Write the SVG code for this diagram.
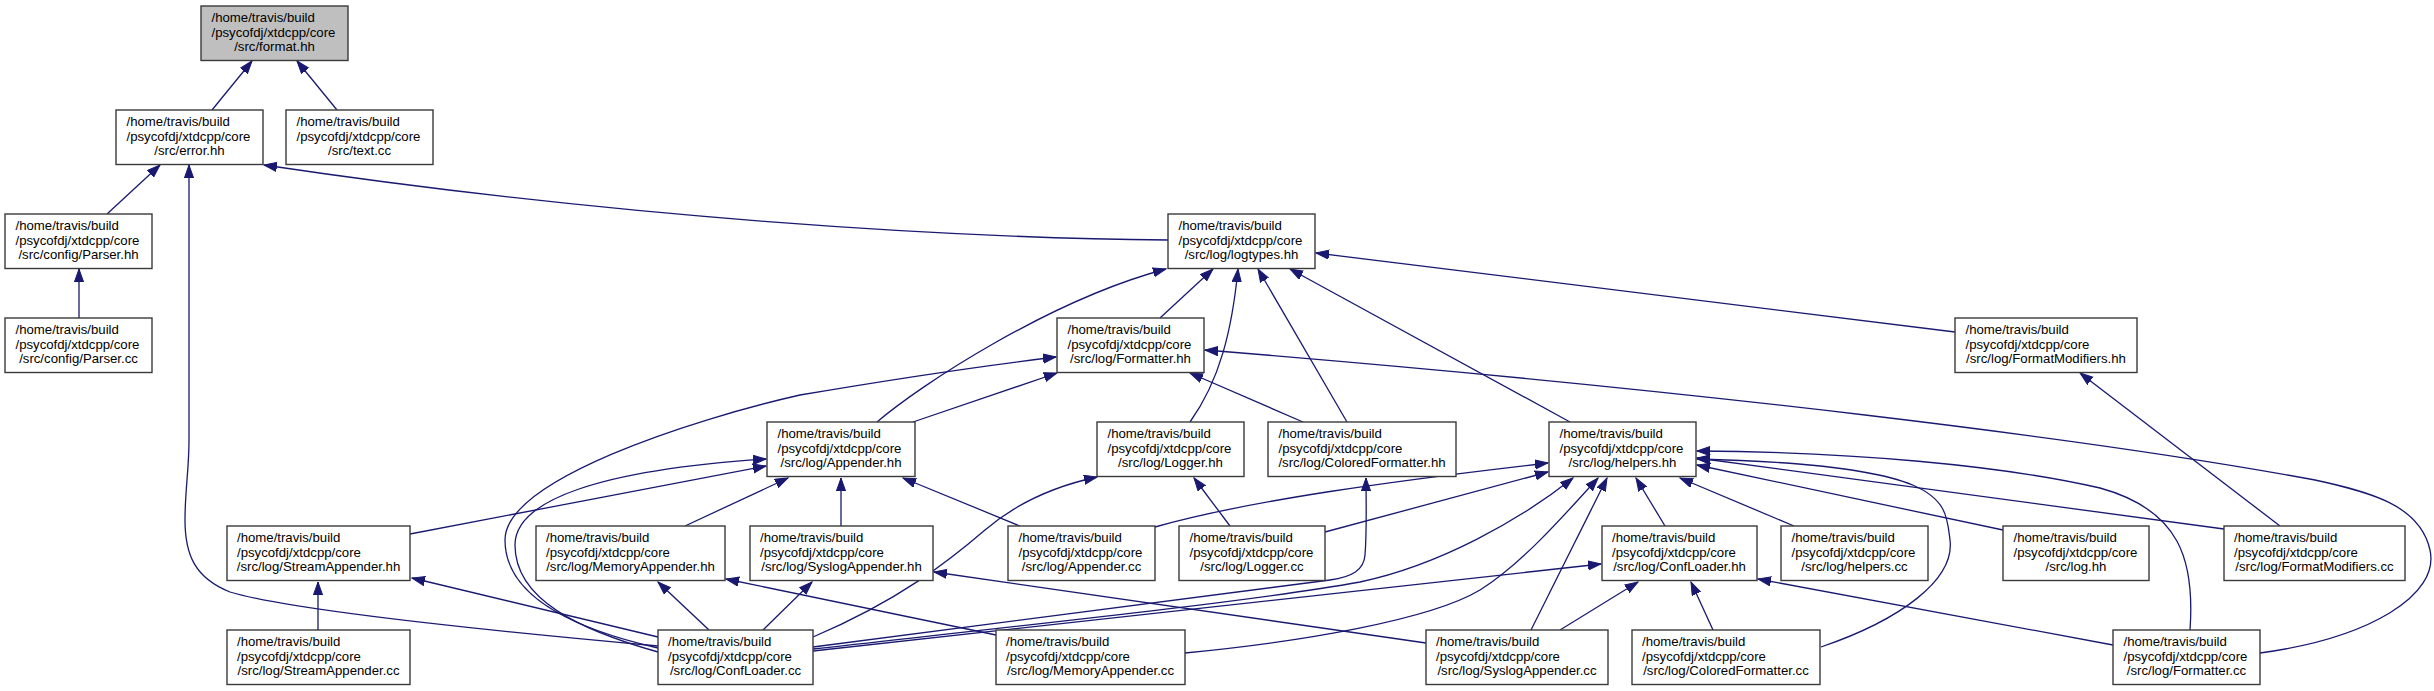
<svg xmlns="http://www.w3.org/2000/svg" width="2434" height="691" viewBox="0 0 2434 691">
<defs>
<marker id="ah" markerUnits="userSpaceOnUse" markerWidth="16" markerHeight="12" refX="13" refY="5" orient="auto">
<path d="M0,0.4 L13,5 L0,9.6 z" fill="#191970" stroke="#191970" stroke-width="1"/>
</marker>
<style>
.node rect{fill:#ffffff;stroke:#3a3a3a;stroke-width:1.4}
.node.root rect{fill:#bfbfbf}
.node text{font-family:"Liberation Sans",Arial,sans-serif;font-size:13.2px;fill:#000}
.c{text-anchor:middle}
#edges path{fill:none;stroke:#191970;stroke-width:1.3;marker-end:url(#ah)}
</style>
</defs>
<rect width="2434" height="691" fill="#ffffff"/>
<g id="edges">
<path d="M212,110 L252,61"/>
<path d="M337,110 L297,61"/>
<path d="M107,214 L160,165"/>
<path d="M79,318 L79,269"/>
<path d="M658,646 C480,630 290,610 230,592 C195,578 185,555 185,520 C185,490 189,470 189,440 L189,165"/>
<path d="M1168,240 C950,238 620,218 264,165"/>
<path d="M877,422 C920,385 1050,300 1166,269"/>
<path d="M1160,318 L1213,269"/>
<path d="M1190,422 C1220,380 1232,330 1238,269"/>
<path d="M1347,422 L1258,269"/>
<path d="M1570,422 L1290,269"/>
<path d="M1955,332 L1316,253"/>
<path d="M913,422 L1057,373"/>
<path d="M1303,422 L1190,373"/>
<path d="M2260,653 C2370,638 2440,595 2430,550 C2420,505 2370,492 2315,480 C2100,440 1700,390 1205,350"/>
<path d="M658,648 C570,628 505,595 505,540 C505,480 690,420 800,395 C900,378 990,365 1056,357"/>
<path d="M658,652 C580,630 515,600 515,545 C515,500 600,470 766,459"/>
<path d="M410,534 L766,466"/>
<path d="M685,526 L788,478"/>
<path d="M841,526 L841,478"/>
<path d="M1020,526 L903,478"/>
<path d="M318,630 L318,582"/>
<path d="M658,637 L412,578"/>
<path d="M709,630 L658,582"/>
<path d="M996,635 L726,579"/>
<path d="M763,630 L812,582"/>
<path d="M1426,643 L934,572"/>
<path d="M1230,526 L1194,478"/>
<path d="M813,637 C900,600 950,560 985,530 C1020,500 1060,485 1097,477"/>
<path d="M813,647 L1330,580 C1352,577 1364,570 1365,555 C1367,530 1366,500 1366,478"/>
<path d="M1155,527 C1250,500 1400,480 1548,463"/>
<path d="M1325,532 L1548,472"/>
<path d="M813,649 C1000,628 1250,602 1360,582 C1440,565 1520,520 1573,478"/>
<path d="M1185,653 C1300,642 1430,620 1480,590 C1520,565 1560,520 1598,478"/>
<path d="M1531,630 L1607,478"/>
<path d="M1665,526 L1636,478"/>
<path d="M1794,526 L1680,478"/>
<path d="M2003,530 L1697,465"/>
<path d="M2224,529 L1697,458"/>
<path d="M1821,647 C1900,620 1955,580 1950,540 C1945,500 1950,465 1697,459"/>
<path d="M2190,630 C2195,560 2180,510 2100,488 C2000,465 1850,452 1697,451"/>
<path d="M813,651 L1601,564"/>
<path d="M1560,630 L1638,582"/>
<path d="M1713,630 L1691,582"/>
<path d="M2113,645 L1758,579"/>
<path d="M2280,526 L2080,373"/>
</g>
<g id="n_format" class="node root"><rect x="201" y="6" width="147" height="54.5"/><text x="211.5" y="22">/home/travis/build<tspan x="211.5" y="36.5">/psycofdj/xtdcpp/core</tspan><tspan class="c" x="274.5" y="51">/src/format.hh</tspan></text></g>
<g id="n_error" class="node"><rect x="116" y="110" width="147" height="54.5"/><text x="126.5" y="126">/home/travis/build<tspan x="126.5" y="140.5">/psycofdj/xtdcpp/core</tspan><tspan class="c" x="189.5" y="155">/src/error.hh</tspan></text></g>
<g id="n_text" class="node"><rect x="286" y="110" width="147" height="54.5"/><text x="296.5" y="126">/home/travis/build<tspan x="296.5" y="140.5">/psycofdj/xtdcpp/core</tspan><tspan class="c" x="359.5" y="155">/src/text.cc</tspan></text></g>
<g id="n_parserhh" class="node"><rect x="5" y="214" width="147" height="54.5"/><text x="15.5" y="230">/home/travis/build<tspan x="15.5" y="244.5">/psycofdj/xtdcpp/core</tspan><tspan class="c" x="78.5" y="259">/src/config/Parser.hh</tspan></text></g>
<g id="n_parsercc" class="node"><rect x="5" y="318" width="147" height="54.5"/><text x="15.5" y="334">/home/travis/build<tspan x="15.5" y="348.5">/psycofdj/xtdcpp/core</tspan><tspan class="c" x="78.5" y="363">/src/config/Parser.cc</tspan></text></g>
<g id="n_logtypes" class="node"><rect x="1168" y="214" width="147" height="54.5"/><text x="1178.5" y="230">/home/travis/build<tspan x="1178.5" y="244.5">/psycofdj/xtdcpp/core</tspan><tspan class="c" x="1241.5" y="259">/src/log/logtypes.hh</tspan></text></g>
<g id="n_formatterhh" class="node"><rect x="1057" y="318" width="147" height="54.5"/><text x="1067.5" y="334">/home/travis/build<tspan x="1067.5" y="348.5">/psycofdj/xtdcpp/core</tspan><tspan class="c" x="1130.5" y="363">/src/log/Formatter.hh</tspan></text></g>
<g id="n_formatmodhh" class="node"><rect x="1955" y="318" width="182" height="54.5"/><text x="1965.5" y="334">/home/travis/build<tspan x="1965.5" y="348.5">/psycofdj/xtdcpp/core</tspan><tspan class="c" x="2046" y="363">/src/log/FormatModifiers.hh</tspan></text></g>
<g id="n_appenderhh" class="node"><rect x="767" y="422" width="148" height="54.5"/><text x="777.5" y="438">/home/travis/build<tspan x="777.5" y="452.5">/psycofdj/xtdcpp/core</tspan><tspan class="c" x="841" y="467">/src/log/Appender.hh</tspan></text></g>
<g id="n_loggerhh" class="node"><rect x="1097" y="422" width="147" height="54.5"/><text x="1107.5" y="438">/home/travis/build<tspan x="1107.5" y="452.5">/psycofdj/xtdcpp/core</tspan><tspan class="c" x="1170.5" y="467">/src/log/Logger.hh</tspan></text></g>
<g id="n_coloredhh" class="node"><rect x="1268" y="422" width="188" height="54.5"/><text x="1278.5" y="438">/home/travis/build<tspan x="1278.5" y="452.5">/psycofdj/xtdcpp/core</tspan><tspan class="c" x="1362" y="467">/src/log/ColoredFormatter.hh</tspan></text></g>
<g id="n_helpershh" class="node"><rect x="1549" y="422" width="147" height="54.5"/><text x="1559.5" y="438">/home/travis/build<tspan x="1559.5" y="452.5">/psycofdj/xtdcpp/core</tspan><tspan class="c" x="1622.5" y="467">/src/log/helpers.hh</tspan></text></g>
<g id="n_streamhh" class="node"><rect x="227" y="526" width="183" height="54.5"/><text x="237" y="542">/home/travis/build<tspan x="237" y="556.5">/psycofdj/xtdcpp/core</tspan><tspan class="c" x="318.5" y="571">/src/log/StreamAppender.hh</tspan></text></g>
<g id="n_memoryhh" class="node"><rect x="536" y="526" width="189" height="54.5"/><text x="546" y="542">/home/travis/build<tspan x="546" y="556.5">/psycofdj/xtdcpp/core</tspan><tspan class="c" x="630.5" y="571">/src/log/MemoryAppender.hh</tspan></text></g>
<g id="n_sysloghh" class="node"><rect x="750" y="526" width="183" height="54.5"/><text x="760" y="542">/home/travis/build<tspan x="760" y="556.5">/psycofdj/xtdcpp/core</tspan><tspan class="c" x="841.5" y="571">/src/log/SyslogAppender.hh</tspan></text></g>
<g id="n_appendercc" class="node"><rect x="1008" y="526" width="147" height="54.5"/><text x="1018.5" y="542">/home/travis/build<tspan x="1018.5" y="556.5">/psycofdj/xtdcpp/core</tspan><tspan class="c" x="1081.5" y="571">/src/log/Appender.cc</tspan></text></g>
<g id="n_loggercc" class="node"><rect x="1179" y="526" width="146" height="54.5"/><text x="1189.5" y="542">/home/travis/build<tspan x="1189.5" y="556.5">/psycofdj/xtdcpp/core</tspan><tspan class="c" x="1252" y="571">/src/log/Logger.cc</tspan></text></g>
<g id="n_confloaderhh" class="node"><rect x="1602" y="526" width="155" height="54.5"/><text x="1612" y="542">/home/travis/build<tspan x="1612" y="556.5">/psycofdj/xtdcpp/core</tspan><tspan class="c" x="1679.5" y="571">/src/log/ConfLoader.hh</tspan></text></g>
<g id="n_helperscc" class="node"><rect x="1781" y="526" width="147" height="54.5"/><text x="1791.5" y="542">/home/travis/build<tspan x="1791.5" y="556.5">/psycofdj/xtdcpp/core</tspan><tspan class="c" x="1854.5" y="571">/src/log/helpers.cc</tspan></text></g>
<g id="n_loghh" class="node"><rect x="2003" y="526" width="146" height="54.5"/><text x="2013.5" y="542">/home/travis/build<tspan x="2013.5" y="556.5">/psycofdj/xtdcpp/core</tspan><tspan class="c" x="2076" y="571">/src/log.hh</tspan></text></g>
<g id="n_formatmodcc" class="node"><rect x="2224" y="526" width="181" height="54.5"/><text x="2234" y="542">/home/travis/build<tspan x="2234" y="556.5">/psycofdj/xtdcpp/core</tspan><tspan class="c" x="2314.5" y="571">/src/log/FormatModifiers.cc</tspan></text></g>
<g id="n_streamcc" class="node"><rect x="227" y="630" width="183" height="54.5"/><text x="237" y="646">/home/travis/build<tspan x="237" y="660.5">/psycofdj/xtdcpp/core</tspan><tspan class="c" x="318.5" y="675">/src/log/StreamAppender.cc</tspan></text></g>
<g id="n_confloadercc" class="node"><rect x="658" y="630" width="155" height="54.5"/><text x="668" y="646">/home/travis/build<tspan x="668" y="660.5">/psycofdj/xtdcpp/core</tspan><tspan class="c" x="735.5" y="675">/src/log/ConfLoader.cc</tspan></text></g>
<g id="n_memorycc" class="node"><rect x="996" y="630" width="189" height="54.5"/><text x="1006" y="646">/home/travis/build<tspan x="1006" y="660.5">/psycofdj/xtdcpp/core</tspan><tspan class="c" x="1090.5" y="675">/src/log/MemoryAppender.cc</tspan></text></g>
<g id="n_syslogcc" class="node"><rect x="1426" y="630" width="182" height="54.5"/><text x="1436" y="646">/home/travis/build<tspan x="1436" y="660.5">/psycofdj/xtdcpp/core</tspan><tspan class="c" x="1517" y="675">/src/log/SyslogAppender.cc</tspan></text></g>
<g id="n_coloredcc" class="node"><rect x="1632" y="630" width="188" height="54.5"/><text x="1642" y="646">/home/travis/build<tspan x="1642" y="660.5">/psycofdj/xtdcpp/core</tspan><tspan class="c" x="1726" y="675">/src/log/ColoredFormatter.cc</tspan></text></g>
<g id="n_formattercc" class="node"><rect x="2113" y="630" width="147" height="54.5"/><text x="2123.5" y="646">/home/travis/build<tspan x="2123.5" y="660.5">/psycofdj/xtdcpp/core</tspan><tspan class="c" x="2186.5" y="675">/src/log/Formatter.cc</tspan></text></g>
</svg>
